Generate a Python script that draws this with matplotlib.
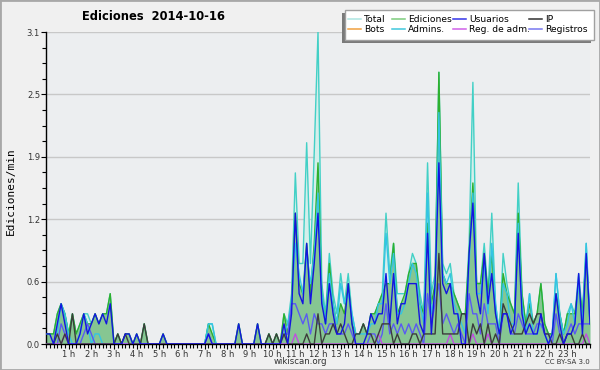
import matplotlib
matplotlib.use("Agg")
import matplotlib.pyplot as plt
from matplotlib.patches import Rectangle
from matplotlib.lines import Line2D
import numpy as np

# edits per minute, 10-minute bins (one row per hour)
total = [
    0.1, 0.1, 0.1, 0.3, 0.4, 0.3,
    0.1, 0.3, 0.1, 0.2, 0.3, 0.3,
    0.2, 0.3, 0.2, 0.3, 0.3, 0.5,
    0.0, 0.1, 0.0, 0.1, 0.1, 0.0,
    0.1, 0.0, 0.2, 0.0, 0.0, 0.0,
    0.0, 0.1, 0.0, 0.0, 0.0, 0.0,
    0.0, 0.0, 0.0, 0.0, 0.0, 0.0,
    0.0, 0.2, 0.2, 0.0, 0.0, 0.0,
    0.0, 0.0, 0.0, 0.2, 0.0, 0.0,
    0.0, 0.0, 0.2, 0.0, 0.0, 0.1,
    0.0, 0.1, 0.0, 0.3, 0.2, 0.5,
    1.7, 0.8, 0.8, 2.0, 0.8, 1.9,
    3.1, 0.6, 0.3, 0.9, 0.5, 0.3,
    0.7, 0.4, 0.7, 0.3, 0.1, 0.1,
    0.2, 0.1, 0.3, 0.3, 0.4, 0.5,
    1.3, 0.7, 1.0, 0.5, 0.5, 0.5,
    0.7, 0.9, 0.8, 0.5, 0.3, 1.8,
    0.5, 0.7, 2.7, 0.8, 0.7, 0.8,
    0.5, 0.4, 0.3, 0.3, 1.0, 2.6,
    0.6, 0.6, 1.0, 0.5, 1.3, 0.4,
    0.1, 0.9, 0.6, 0.4, 0.3, 1.6,
    0.5, 0.2, 0.5, 0.2, 0.3, 0.6,
    0.2, 0.1, 0.1, 0.7, 0.3, 0.1,
    0.3, 0.4, 0.3, 0.7, 0.3, 1.0, 0.2,
]
ediciones = [
    0.1, 0.1, 0.1, 0.3, 0.4, 0.3,
    0.1, 0.3, 0.1, 0.2, 0.3, 0.2,
    0.2, 0.3, 0.2, 0.3, 0.3, 0.5,
    0.0, 0.1, 0.0, 0.1, 0.1, 0.0,
    0.1, 0.0, 0.2, 0.0, 0.0, 0.0,
    0.0, 0.1, 0.0, 0.0, 0.0, 0.0,
    0.0, 0.0, 0.0, 0.0, 0.0, 0.0,
    0.0, 0.2, 0.1, 0.0, 0.0, 0.0,
    0.0, 0.0, 0.0, 0.2, 0.0, 0.0,
    0.0, 0.0, 0.2, 0.0, 0.0, 0.1,
    0.0, 0.1, 0.0, 0.3, 0.1, 0.4,
    1.3, 0.6, 0.5, 1.0, 0.5, 1.0,
    1.8, 0.5, 0.2, 0.8, 0.4, 0.2,
    0.4, 0.3, 0.6, 0.2, 0.1, 0.1,
    0.2, 0.1, 0.3, 0.3, 0.4, 0.5,
    0.6, 0.6, 1.0, 0.3, 0.4, 0.5,
    0.7, 0.8, 0.8, 0.4, 0.3, 1.2,
    0.4, 0.6, 2.7, 0.7, 0.6, 0.6,
    0.5, 0.4, 0.3, 0.3, 0.9, 1.6,
    0.6, 0.6, 0.9, 0.5, 0.9, 0.3,
    0.1, 0.7, 0.5, 0.4, 0.3, 1.3,
    0.5, 0.2, 0.4, 0.2, 0.3, 0.6,
    0.2, 0.1, 0.1, 0.5, 0.3, 0.1,
    0.3, 0.3, 0.3, 0.6, 0.3, 0.9, 0.2,
]
usuarios = [
    0.1, 0.1, 0.0, 0.2, 0.4, 0.2,
    0.0, 0.0, 0.0, 0.1, 0.3, 0.1,
    0.2, 0.3, 0.2, 0.3, 0.2, 0.4,
    0.0, 0.0, 0.0, 0.1, 0.1, 0.0,
    0.1, 0.0, 0.0, 0.0, 0.0, 0.0,
    0.0, 0.1, 0.0, 0.0, 0.0, 0.0,
    0.0, 0.0, 0.0, 0.0, 0.0, 0.0,
    0.0, 0.1, 0.0, 0.0, 0.0, 0.0,
    0.0, 0.0, 0.0, 0.2, 0.0, 0.0,
    0.0, 0.0, 0.2, 0.0, 0.0, 0.0,
    0.0, 0.0, 0.0, 0.2, 0.0, 0.3,
    1.3, 0.5, 0.4, 1.0, 0.4, 0.8,
    1.3, 0.4, 0.2, 0.6, 0.3, 0.1,
    0.1, 0.2, 0.6, 0.2, 0.0, 0.0,
    0.0, 0.1, 0.3, 0.2, 0.3, 0.3,
    0.7, 0.2, 0.7, 0.2, 0.4, 0.4,
    0.6, 0.6, 0.6, 0.2, 0.1, 1.1,
    0.1, 0.6, 1.8, 0.6, 0.5, 0.6,
    0.3, 0.3, 0.0, 0.0, 0.9, 1.4,
    0.5, 0.3, 0.9, 0.4, 0.7, 0.3,
    0.1, 0.3, 0.3, 0.1, 0.2, 1.1,
    0.3, 0.1, 0.2, 0.1, 0.1, 0.3,
    0.1, 0.0, 0.1, 0.5, 0.2, 0.0,
    0.1, 0.1, 0.2, 0.7, 0.1, 0.9, 0.2,
]
ip = [
    0.0, 0.0, 0.0, 0.1, 0.0, 0.1,
    0.0, 0.3, 0.0, 0.0, 0.0, 0.0,
    0.0, 0.0, 0.0, 0.0, 0.0, 0.0,
    0.0, 0.1, 0.0, 0.1, 0.0, 0.0,
    0.0, 0.0, 0.2, 0.0, 0.0, 0.0,
    0.0, 0.0, 0.0, 0.0, 0.0, 0.0,
    0.0, 0.0, 0.0, 0.0, 0.0, 0.0,
    0.0, 0.0, 0.0, 0.0, 0.0, 0.0,
    0.0, 0.0, 0.0, 0.0, 0.0, 0.0,
    0.0, 0.0, 0.0, 0.0, 0.0, 0.1,
    0.0, 0.1, 0.0, 0.1, 0.0, 0.0,
    0.0, 0.0, 0.0, 0.1, 0.0, 0.0,
    0.3, 0.0, 0.1, 0.1, 0.2, 0.1,
    0.2, 0.1, 0.0, 0.0, 0.1, 0.1,
    0.2, 0.1, 0.1, 0.0, 0.1, 0.2,
    0.2, 0.2, 0.0, 0.1, 0.0, 0.0,
    0.0, 0.1, 0.1, 0.0, 0.1, 0.1,
    0.1, 0.1, 0.9, 0.1, 0.1, 0.1,
    0.1, 0.1, 0.3, 0.3, 0.0, 0.2,
    0.1, 0.2, 0.0, 0.2, 0.0, 0.1,
    0.0, 0.4, 0.3, 0.2, 0.1, 0.1,
    0.1, 0.2, 0.3, 0.2, 0.3, 0.3,
    0.1, 0.1, 0.0, 0.0, 0.1, 0.0,
    0.1, 0.1, 0.0, 0.0, 0.1, 0.0, 0.0,
]
admins = [
    0.0, 0.0, 0.0, 0.1, 0.4, 0.3,
    0.1, 0.0, 0.0, 0.1, 0.3, 0.2,
    0.0, 0.1, 0.1, 0.0, 0.0, 0.0,
    0.0, 0.0, 0.0, 0.0, 0.0, 0.0,
    0.0, 0.0, 0.0, 0.0, 0.0, 0.0,
    0.0, 0.0, 0.0, 0.0, 0.0, 0.0,
    0.0, 0.0, 0.0, 0.0, 0.0, 0.0,
    0.0, 0.2, 0.2, 0.0, 0.0, 0.0,
    0.0, 0.0, 0.0, 0.0, 0.0, 0.0,
    0.0, 0.0, 0.0, 0.0, 0.0, 0.0,
    0.0, 0.0, 0.0, 0.1, 0.2, 0.4,
    1.0, 0.7, 0.5, 0.9, 0.6, 0.9,
    1.5, 0.5, 0.2, 0.7, 0.4, 0.2,
    0.6, 0.4, 0.5, 0.3, 0.1, 0.1,
    0.1, 0.1, 0.2, 0.2, 0.4, 0.4,
    1.1, 0.6, 0.9, 0.3, 0.3, 0.4,
    0.6, 0.8, 0.7, 0.4, 0.2, 1.5,
    0.3, 0.5, 2.3, 0.7, 0.6, 0.7,
    0.4, 0.3, 0.2, 0.1, 0.8, 1.5,
    0.5, 0.5, 0.8, 0.3, 1.0, 0.4,
    0.1, 0.6, 0.5, 0.2, 0.2, 1.2,
    0.4, 0.1, 0.5, 0.1, 0.1, 0.2,
    0.1, 0.0, 0.1, 0.7, 0.3, 0.1,
    0.2, 0.4, 0.2, 0.6, 0.2, 1.0, 0.2,
]
registros = [
    0.0, 0.0, 0.0, 0.0, 0.2, 0.1,
    0.0, 0.0, 0.0, 0.0, 0.1, 0.2,
    0.1, 0.0, 0.0, 0.0, 0.0, 0.0,
    0.0, 0.0, 0.0, 0.0, 0.0, 0.0,
    0.0, 0.0, 0.0, 0.0, 0.0, 0.0,
    0.0, 0.0, 0.0, 0.0, 0.0, 0.0,
    0.0, 0.0, 0.0, 0.0, 0.0, 0.0,
    0.0, 0.1, 0.0, 0.0, 0.0, 0.0,
    0.0, 0.0, 0.0, 0.0, 0.0, 0.0,
    0.0, 0.0, 0.0, 0.0, 0.0, 0.0,
    0.0, 0.0, 0.0, 0.1, 0.1, 0.4,
    0.4, 0.3, 0.2, 0.3, 0.1, 0.3,
    0.2, 0.2, 0.1, 0.2, 0.2, 0.1,
    0.1, 0.1, 0.2, 0.1, 0.0, 0.0,
    0.0, 0.0, 0.1, 0.1, 0.0, 0.1,
    0.4, 0.1, 0.2, 0.1, 0.2, 0.1,
    0.2, 0.1, 0.2, 0.1, 0.0, 0.5,
    0.2, 0.4, 0.6, 0.2, 0.3, 0.2,
    0.1, 0.2, 0.1, 0.0, 0.5, 0.3,
    0.3, 0.1, 0.4, 0.2, 0.2, 0.2,
    0.0, 0.3, 0.3, 0.1, 0.1, 0.3,
    0.2, 0.1, 0.1, 0.1, 0.2, 0.2,
    0.1, 0.1, 0.0, 0.3, 0.1, 0.0,
    0.1, 0.2, 0.1, 0.2, 0.2, 0.2, 0.2,
]
reg_adm = [
    0.0, 0.0, 0.0, 0.0, 0.0, 0.1,
    0.0, 0.0, 0.0, 0.0, 0.0, 0.0,
    0.0, 0.0, 0.0, 0.0, 0.0, 0.0,
    0.0, 0.0, 0.0, 0.0, 0.0, 0.0,
    0.0, 0.0, 0.0, 0.0, 0.0, 0.0,
    0.0, 0.0, 0.0, 0.0, 0.0, 0.0,
    0.0, 0.0, 0.0, 0.0, 0.0, 0.0,
    0.0, 0.0, 0.0, 0.0, 0.0, 0.0,
    0.0, 0.0, 0.0, 0.0, 0.0, 0.0,
    0.0, 0.0, 0.0, 0.0, 0.0, 0.0,
    0.0, 0.0, 0.0, 0.0, 0.0, 0.0,
    0.1, 0.0, 0.0, 0.0, 0.0, 0.0,
    0.0, 0.0, 0.0, 0.0, 0.0, 0.0,
    0.0, 0.0, 0.0, 0.0, 0.0, 0.0,
    0.0, 0.0, 0.0, 0.0, 0.1, 0.0,
    0.0, 0.0, 0.0, 0.0, 0.0, 0.0,
    0.0, 0.0, 0.0, 0.0, 0.0, 0.0,
    0.0, 0.0, 0.0, 0.0, 0.0, 0.1,
    0.0, 0.0, 0.0, 0.0, 0.0, 0.1,
    0.0, 0.0, 0.0, 0.1, 0.0, 0.0,
    0.0, 0.0, 0.0, 0.0, 0.0, 0.0,
    0.0, 0.0, 0.0, 0.0, 0.0, 0.0,
    0.0, 0.0, 0.0, 0.0, 0.0, 0.0,
    0.0, 0.0, 0.0, 0.0, 0.0, 0.1, 0.0,
]
bots = [0.0] * len(total)

hour_labels = ["%d h" % h for h in range(1, 24)]
y_ticks = [0.0, 0.62, 1.24, 1.86, 2.48, 3.1]
y_labels = ["0.0", "0.6", "1.2", "1.9", "2.5", "3.1"]

legend_names = ['Total', 'Bots', 'Ediciones', 'Admins.', 'Usuarios', 'Reg. de adm.', 'IP', 'Registros']
legend_colors = ['#aee6e2', '#f0a040', '#7ccc7c', '#40c8dc', '#3434e8', '#d060e8', '#303030', '#7878f0']

for s in (ediciones, usuarios, ip, admins, registros, reg_adm, bots):
    assert len(s) == len(total)

W, H = 600, 370
fs = 6
bg = '#f0f0f0'
x = np.arange(len(total))

fig = plt.figure(figsize=(6, 3.7), dpi=100, facecolor=bg)
ax = fig.add_axes([46 / W, 26 / H, 544 / W, 312 / H])
ax.set_facecolor('#eceef0')

ax.fill_between(x, total, color='#d4efeb', lw=0, zorder=1)
ax.fill_between(x, ediciones, color='#3a9e3a', alpha=0.5, lw=0, zorder=2)

lw = 1.0
ax.plot(x, total, color='#42d0c6', lw=lw, zorder=3)
ax.plot(x, ediciones, color='#2eb02e', lw=lw, zorder=4)
ax.plot(x, admins, color='#34c4e4', lw=lw, zorder=5)
ax.plot(x, registros, color='#5a5af2', lw=lw, zorder=6)
ax.plot(x, reg_adm, color='#c04ee0', lw=lw, zorder=7)
ax.plot(x, ip, color='#3c3c3c', lw=lw, zorder=8)
ax.plot(x, usuarios, color='#1414e0', lw=lw, zorder=9)

ax.set_xlim(0, 144)
ax.set_ylim(0, 3.1)
ax.set_xticks(np.arange(6, 144, 6))
ax.set_xticklabels(hour_labels)
ax.set_xticks(np.arange(0, 145, 1), minor=True)
ax.set_yticks(y_ticks)
ax.set_yticklabels(y_labels)
ax.set_yticks(np.arange(0, 3.1001, 0.155), minor=True)

ax.tick_params(axis='both', which='major', labelsize=fs, length=3.5, width=0.8,
               color='black', labelcolor='#333333', direction='out', pad=0.8)
ax.tick_params(axis='both', which='minor', length=3, width=0.8, direction='out')
ax.grid(which='major', axis='y', color='#c8c8c8', lw=1, zorder=0)
ax.set_axisbelow(True)
for side in ('top', 'right'):
    ax.spines[side].set_visible(False)
for side in ('left', 'bottom'):
    ax.spines[side].set_linewidth(1)

# label anchor is its right edge once rotated
ax.set_ylabel('Ediciones/min', fontsize=8, family='DejaVu Sans Mono')
ax.yaxis.set_label_coords((16 - 46) / 544, 0.49)

fig.text(153 / W, 1 - 16 / H, 'Ediciones  2014-10-16', ha='center', va='center',
         fontsize=8.3, fontweight='bold')
fig.text(0.5, 1 - 362 / H, 'wikiscan.org', ha='center', va='center', fontsize=6.2, color='#333333')
fig.text(590 / W, 1 - 362 / H, 'CC BY-SA 3.0', ha='right', va='center', fontsize=5, color='#333333')

# legend box drawn by hand: x 345..594, y 10..40 px, shadow left/bottom
lx0, lx1, ly0, ly1 = 345, 594, 10, 40
fig.patches.append(Rectangle(((lx0 - 3) / W, 1 - (ly1 + 3) / H), (lx1 - lx0) / W,
                             (ly1 - ly0) / H, transform=fig.transFigure,
                             facecolor='#7a7a7a', edgecolor='none', zorder=8))
fig.patches.append(Rectangle((lx0 / W, 1 - ly1 / H), (lx1 - lx0) / W, (ly1 - ly0) / H,
                             transform=fig.transFigure, facecolor='white',
                             edgecolor='#a0a0a0', lw=1, zorder=9))
col_x = [348, 392, 453, 529]
row_y = [19, 29]
for k, (name, c) in enumerate(zip(legend_names, legend_colors)):
    cx = col_x[k // 2]
    ry = row_y[k % 2]
    fig.add_artist(Line2D([cx / W, (cx + 13) / W], [1 - ry / H, 1 - ry / H],
                          transform=fig.transFigure, color=c, lw=1.1, zorder=10))
    fig.text((cx + 16) / W, 1 - ry / H, name, ha='left', va='center', fontsize=6.6,
             zorder=10)

fig.patches.append(Rectangle((0, 0), 1, 1, transform=fig.transFigure, fill=False,
                             edgecolor='#a8a8a8', lw=2, zorder=0))

fig.savefig('out.png', dpi=100, facecolor=bg)
plt.close(fig)
